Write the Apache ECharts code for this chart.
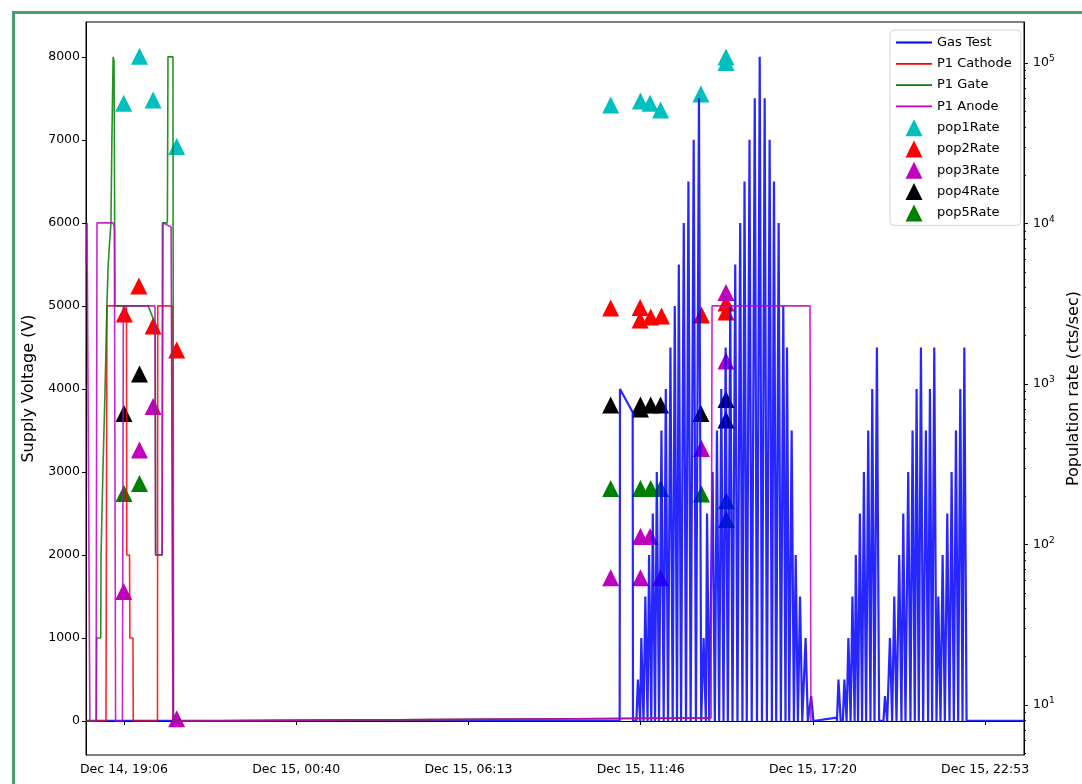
<!DOCTYPE html>
<html><head><meta charset="utf-8">
<script src="https://cdn.jsdelivr.net/npm/echarts@6/dist/echarts.min.js"></script>
<style>
html,body{margin:0;padding:0;background:#fff;}
#c{width:1082px;height:784px;position:absolute;left:0;top:0;}
#frame{position:absolute;left:12px;top:11px;width:1100px;height:800px;border:3px solid #4a9f6e;pointer-events:none;box-sizing:border-box;}
</style>
</head><body>
<div id="c"></div><div id="frame"></div>
<script>
// Time is expressed in hours since Dec 14, 00:00
const xMin = 17.885, xMax = 48.143;
const xTickHours = [19.1111, 24.6667, 30.2222, 35.7778, 41.3333, 46.8889];
const xTickLabels = ['Dec 14, 19:06', 'Dec 15, 00:40', 'Dec 15, 06:13', 'Dec 15, 11:46', 'Dec 15, 17:20', 'Dec 15, 22:53'];
const yLeftTicks = [0, 1000, 2000, 3000, 4000, 5000, 6000, 7000, 8000];
const yRightTicks = [10, 100, 1000, 10000, 100000];
const yRightMinorTicks = [5,6,7,8,9,20,30,40,50,60,70,80,90,200,300,400,500,600,700,800,900,
  2000,3000,4000,5000,6000,7000,8000,9000,20000,30000,40000,50000,60000,70000,80000,90000];

// Gas Test: baseline / step segments and spike trains
const gasStart = [[17.885, 0], [35.10, 0], [35.11, 4000], [35.52, 3720], [35.53, 0]];
const gasSpikeTimes = [35.70,35.81,35.94,36.06,36.18,36.31,36.46,36.60,36.75,36.89,37.02,37.18,37.33,37.50,37.67,37.82,37.93,
  38.11,38.25,38.39,38.53,38.68,38.84,39.00,39.14,39.30,39.47,39.63,39.79,39.95,40.09,40.24,40.39,40.51,40.66,40.79,40.93,41.11,41.29,
  42.17,42.36,42.49,42.62,42.73,42.86,42.99,43.13,43.26,43.41,
  43.67,43.83,43.97,44.13,44.26,44.42,44.56,44.69,44.83,44.99,45.12,45.26,45.39,45.53,45.68,45.82,45.96,46.10,46.23];
const gasSpikePeaks = [500,1000,1500,2000,2500,3000,3500,4000,4500,5000,5500,6000,6500,7000,7500,1000,2500,
  3000,3500,4000,4500,5000,5500,6000,6500,7000,7500,8000,7500,7000,6500,6000,5000,4500,3500,2000,1500,1000,300,
  500,500,1000,1500,2000,2500,3000,3500,4000,4500,
  300,1000,1500,2000,2500,3000,3500,4000,4500,3500,4000,4500,1500,2000,2500,3000,3500,4000,4500];
const gasGap = [[41.35, 0], [42.10, 40]];
const gasEnd = [[46.30, 0], [48.143, 0]];

const cathode = [[17.885,0],[18.53,0],[18.56,5000],[19.19,5000],[19.20,2000],[19.29,2000],[19.30,1000],[19.40,1000],[19.41,0],
  [20.19,0],[20.20,5000],[20.66,5000],[20.69,0],[38.03,35]];
const gate = [[17.885,0],[18.22,0],[18.23,1000],[18.36,1000],[18.37,2000],[18.42,2000],[18.43,3000],[18.49,3000],[18.50,4000],
  [18.54,4000],[18.56,5000],[18.60,5500],[18.69,6000],[18.72,7000],[18.76,8000],[18.79,7950],[18.82,5000],
  [19.89,5000],[20.05,4850],[20.12,4800],[20.13,2000],[20.34,2000],[20.35,6000],[20.51,6000],[20.53,8000],[20.69,8000],[20.71,0],[38.0,35]];
const anode = [[17.885,5500],[17.92,6000],[17.98,6000],[18.01,0],[18.21,0],[18.24,6000],[18.76,6000],[18.80,5950],[18.84,0],
  [19.06,0],[19.09,5000],[20.11,5000],[20.13,2000],[20.34,2000],[20.37,6000],[20.63,5950],[20.69,0],[38.05,35],[38.08,5000],[41.24,5000],[41.27,0]];

const pop1 = [[19.10,56000],[19.61,110000],[20.05,58800],[20.81,30200],[34.81,54700],[35.77,58000],[36.08,56000],[36.42,50900],[37.72,64100],[38.53,109000],[38.53,100700]];
const pop2 = [[19.12,2730],[19.59,4080],[20.05,2300],[20.81,1630],[34.81,2975],[35.76,3000],[35.76,2500],[36.10,2615],[36.45,2650],[37.74,2690],[38.53,3200],[38.53,2810]];
const pop3 = [[19.10,51],[19.61,388],[20.05,724],[20.81,8.2],[34.81,62],[35.77,62],[35.77,112],[36.08,112],[36.42,62],[37.74,396],[38.53,3715],[38.53,1390]];
const pop4 = [[19.11,655],[19.61,1154],[34.81,740],[35.77,740],[35.77,698],[36.10,740],[36.42,740],[37.72,655],[38.53,801],[38.53,597]];
const pop5 = [[19.11,208],[19.61,240],[34.81,223],[35.77,223],[36.10,223],[36.42,223],[37.74,206],[38.54,187],[38.54,143]];

// build gas test path (each spike: sloped rise, short top, sloped fall)
const gas = gasStart.slice();
gasSpikeTimes.forEach((t, i) => {
  if (i === 39) gasGap.forEach(p => gas.push(p));
  const p = gasSpikePeaks[i];
  gas.push([t - 0.06, 0], [t - 0.012, p], [t + 0.012, p], [t + 0.06, 0]);
});
gasEnd.forEach(p => gas.push(p));

const FONT = 'DejaVu Sans';
const LINE_ICON = 'path://M0 7.6H36V9.4H0Z M0 0H0.01V0.01H0Z M36 17H35.99V16.99H36Z';
const TRI_ICON = 'path://M8.5 0L17 17H0Z';
const chart = echarts.init(document.getElementById('c'));
const lineSeries = (name, data, color, width) => ({
  name, type: 'line', data, yAxisIndex: 0, symbol: 'none', clip: true,
  lineStyle: { color, width, opacity: 0.85 }, itemStyle: { color }
});
const scatterSeries = (name, data, color) => ({
  name, type: 'scatter', data, yAxisIndex: 1, symbol: 'triangle', symbolSize: 17,
  itemStyle: { color, opacity: 1 }
});
chart.setOption({
  animation: false,
  grid: { left: 86, right: 58, top: 22, bottom: 29, show: true, borderColor: '#000', borderWidth: 1, outerBoundsMode: 'none', containLabel: false },
  xAxis: {
    type: 'value', min: xMin, max: xMax,
    axisLine: { lineStyle: { color: '#000' } },
    splitLine: { show: false },
    axisTick: { customValues: xTickHours, length: 4, lineStyle: { color: '#000' } },
    axisLabel: {
      customValues: xTickHours, color: '#000', fontSize: 12.5, fontFamily: FONT, margin: 8,
      formatter: v => {
        let best = 0;
        xTickHours.forEach((h, i) => { if (Math.abs(h - v) < Math.abs(xTickHours[best] - v)) best = i; });
        return xTickLabels[best];
      }
    }
  },
  yAxis: [
    {
      type: 'value', min: -410, max: 8420, position: 'left',
      name: 'Supply Voltage (V)', nameLocation: 'middle', nameGap: 45,
      nameTextStyle: { fontSize: 16, color: '#000', fontFamily: FONT },
      axisLine: { show: true, lineStyle: { color: '#000' } },
      axisTick: { show: true, customValues: yLeftTicks, length: 4, lineStyle: { color: '#000' } },
      axisLabel: { customValues: yLeftTicks, color: '#000', fontSize: 12.5, fontFamily: FONT, margin: 6, formatter: v => String(Math.round(v)) },
      splitLine: { show: false }
    },
    {
      type: 'log', min: 4.88, max: 179900, position: 'right',
      name: 'Population rate (cts/sec)', nameLocation: 'middle', nameGap: 37,
      nameTextStyle: { fontSize: 16, color: '#000', fontFamily: FONT },
      axisLine: { show: true, lineStyle: { color: '#000' } },
      axisTick: { show: true, customValues: yRightTicks, length: 4, lineStyle: { color: '#000' } },
      axisLabel: {
        customValues: yRightTicks, color: '#000', fontFamily: FONT, margin: 9,
        formatter: v => '{b|10}{s|' + Math.round(Math.log10(v)) + '}',
        rich: {
          b: { fontSize: 12.5, fontFamily: FONT, color: '#000' },
          s: { fontSize: 9, fontFamily: FONT, color: '#000', verticalAlign: 'top', padding: [0, 0, 8, 0] }
        }
      },
      splitLine: { show: false }
    },
    {
      type: 'log', min: 4.88, max: 179900, position: 'right',
      axisLine: { show: false },
      axisTick: { show: true, customValues: yRightMinorTicks, length: 2, lineStyle: { color: '#000' } },
      axisLabel: { show: false },
      splitLine: { show: false }
    }
  ],
  legend: {
    orient: 'vertical', left: 890, top: 30,
    itemWidth: 36, itemHeight: 17, itemGap: 4.3,
    padding: [4, 9, 4, 6],
    borderColor: '#d4d4d4', borderWidth: 1, borderRadius: 4, backgroundColor: '#fff',
    textStyle: { fontSize: 13, fontFamily: FONT, color: '#000' },
    data: [
      { name: 'Gas Test', icon: LINE_ICON }, { name: 'P1 Cathode', icon: LINE_ICON },
      { name: 'P1 Gate', icon: LINE_ICON }, { name: 'P1 Anode', icon: LINE_ICON },
      { name: 'pop1Rate', icon: TRI_ICON }, { name: 'pop2Rate', icon: TRI_ICON },
      { name: 'pop3Rate', icon: TRI_ICON }, { name: 'pop4Rate', icon: TRI_ICON },
      { name: 'pop5Rate', icon: TRI_ICON }
    ]
  },
  series: [
    lineSeries('Gas Test', gas, '#0000FF', 2.2),
    lineSeries('P1 Cathode', cathode, '#FF0000', 1.6),
    lineSeries('P1 Gate', gate, '#008000', 1.6),
    lineSeries('P1 Anode', anode, '#BF00BF', 1.6),
    scatterSeries('pop1Rate', pop1, '#00BFBF'),
    scatterSeries('pop2Rate', pop2, '#FF0000'),
    scatterSeries('pop3Rate', pop3, '#BF00BF'),
    scatterSeries('pop4Rate', pop4, '#000000'),
    scatterSeries('pop5Rate', pop5, '#008000')
  ]
});
</script>
</body></html>
